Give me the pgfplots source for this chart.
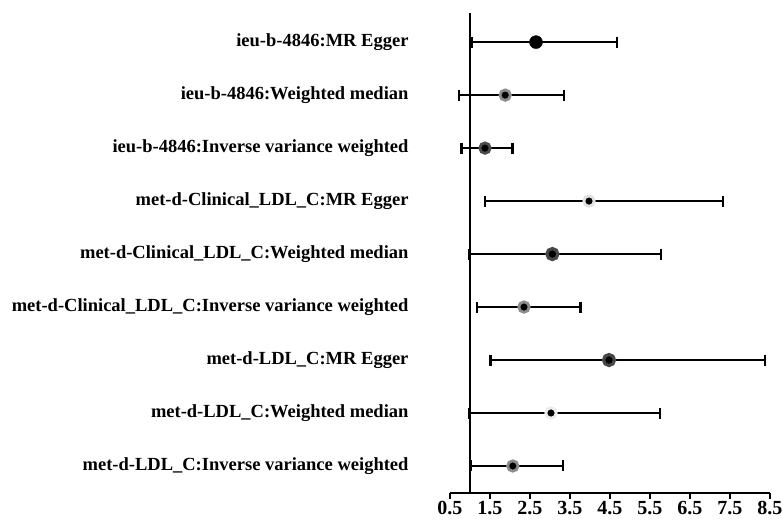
\documentclass[border=0pt]{standalone}
\usepackage{fontspec}
\setmainfont{Liberation Serif}
\usepackage{pgfplots}
\pgfplotsset{compat=1.18}
\usepackage{pgfplotstable}
\pgfplotstableread{
y x lo hi
9 2.65 1.04 4.67
8 1.88 0.73 3.35
7 1.375 0.79 2.06
6 3.975 1.38 7.32
5 3.06 0.98 5.77
4 2.35 1.17 3.76
3 4.475 1.51 8.375
2 3.025 0.975 5.75
1 2.07 1.02 3.32
}\datatable
\begin{document}
\begin{tikzpicture}
\begin{axis}[
  scale only axis,
  width=320pt, height=480pt,
  xmin=0.5, xmax=8.5, ymin=0.49, ymax=9.55,
  axis x line*=bottom,
  axis y line*=left,
  x axis line style={line width=2.2pt, -},
  y axis line style={draw=none},
  xtick={0.5,1.5,...,8.5},
  xticklabels={0.5,1.5,2.5,3.5,4.5,5.5,6.5,7.5,8.5},
  xtick style={line width=2.2pt, black},
  tick align=outside,
  major tick length=6pt,
  xticklabel style={font=\fontsize{20}{22}\selectfont\bfseries, yshift=1pt},
  ytick={1,...,9},
  yticklabels={met-d-LDL\_C:Inverse variance weighted,met-d-LDL\_C:Weighted median,met-d-LDL\_C:MR Egger,met-d-Clinical\_LDL\_C:Inverse variance weighted,met-d-Clinical\_LDL\_C:Weighted median,met-d-Clinical\_LDL\_C:MR Egger,ieu-b-4846:Inverse variance weighted,ieu-b-4846:Weighted median,ieu-b-4846:MR Egger},
  yticklabel style={font=\fontsize{18.5}{20}\selectfont\bfseries, anchor=east, xshift=-32pt},
  ytick style={draw=none},
  /pgf/number format/assume math mode=true,
  clip=false,
]
\addplot[black, line width=2.4pt, no marks] coordinates {(1,0.49) (1,9.55)};
\addplot[draw=none, mark=none, line width=2.4pt,
  error bars/.cd, x dir=both, x explicit,
  error bar style={line width=2.4pt, black, solid},
  error mark options={rotate=90, mark size=5.5pt, line width=2.4pt, black}]
  table[x=x, y=y, x error plus expr=\thisrow{hi}-\thisrow{x}, x error minus expr=\thisrow{x}-\thisrow{lo}] {\datatable};
\addplot[only marks, mark=*, mark size=6.5pt, mark options={fill=black, draw=black}] coordinates {(2.65,9)};
\addplot[only marks, mark=*, mark size=5.2pt, mark options={fill=black, draw=black!45, line width=2.8pt}] coordinates {(1.88,8)};
\addplot[only marks, mark=*, mark size=5.2pt, mark options={fill=black, draw=black!70, line width=2.8pt}] coordinates {(1.375,7)};
\addplot[only marks, mark=*, mark size=5.2pt, mark options={fill=black, draw=black!12, line width=2.8pt}] coordinates {(3.975,6)};
\addplot[only marks, mark=*, mark size=5.5pt, mark options={fill=black, draw=black!72, line width=3.2pt}] coordinates {(3.06,5)};
\addplot[only marks, mark=*, mark size=5.2pt, mark options={fill=black, draw=black!45, line width=2.8pt}] coordinates {(2.35,4)};
\addplot[only marks, mark=*, mark size=5.5pt, mark options={fill=black, draw=black!72, line width=3.2pt}] coordinates {(4.475,3)};
\addplot[only marks, mark=*, mark size=5.2pt, mark options={fill=black, draw=black!8, line width=2.8pt}] coordinates {(3.025,2)};
\addplot[only marks, mark=*, mark size=5.2pt, mark options={fill=black, draw=black!45, line width=2.8pt}] coordinates {(2.07,1)};
\end{axis}
\pgfresetboundingbox
\path[use as bounding box] ([xshift=-450pt,yshift=-30pt]current axis.south west) rectangle ([xshift=333pt,yshift=493pt]current axis.south west);
\end{tikzpicture}
\end{document}
